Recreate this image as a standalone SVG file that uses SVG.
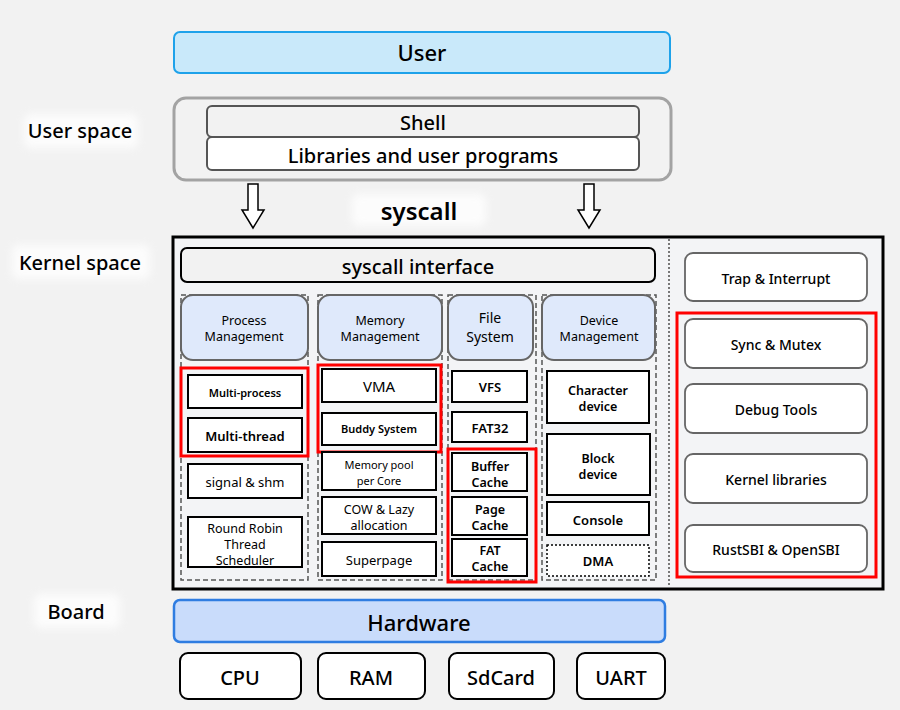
<svg xmlns="http://www.w3.org/2000/svg" width="900" height="710" viewBox="0 0 900 710">
<defs>
<filter id="soft" x="-20%" y="-40%" width="140%" height="180%"><feGaussianBlur stdDeviation="4"/></filter>
<style>
text{font-family:"Noto Sans","Noto Sans CJK SC",sans-serif;text-anchor:middle;dominant-baseline:central;fill:#000}
.big{font-size:22px;font-weight:500}
.lbl{font-size:20px;font-weight:500}
.hdr{font-size:12.5px}
.item{fill:#fff;stroke:#000;stroke-width:2}
.red{fill:none;stroke:#f00;stroke-width:3}
.col{fill:none;stroke:#555;stroke-width:1.5;stroke-dasharray:5 3}
.head{fill:#dfe9fb;stroke:#666;stroke-width:2}
.rbox{fill:#fff;stroke:#666;stroke-width:1.8}
.hw{fill:#fff;stroke:#000;stroke-width:2}
.glow{fill:#fff;opacity:0.8;filter:url(#soft)}
.t13{font-size:13px}
.m13{font-size:12.5px}
.t11{font-size:11px}
.b{font-weight:600}
.r14{font-size:14px;font-weight:500}
</style>
</defs>
<rect width="900" height="710" fill="#f2f2f2"/>

<g id="labels">
<rect class="glow" x="24" y="114" width="114" height="34" rx="6"/>
<text x="80" y="130" class="lbl">User space</text>
<rect class="glow" x="12" y="245" width="138" height="34" rx="6"/>
<text x="80" y="262" class="lbl">Kernel space</text>
<rect class="glow" x="34" y="594" width="86" height="34" rx="6"/>
<text x="76" y="611" class="lbl">Board</text>
<rect class="glow" x="352" y="194" width="134" height="32" rx="6"/>
<text x="419" y="210" style="font-size:24px;font-weight:600">syscall</text>
</g>

<g id="user">
<rect x="174" y="32" width="496" height="41" rx="6" fill="#c9e9fa" stroke="#1ea2ea" stroke-width="2"/>
<text x="422" y="52" class="big">User</text>
</g>

<g id="userspace">
<rect x="174" y="98" width="497" height="82" rx="12" fill="#f2f2f2" stroke="#a3a3a3" stroke-width="3"/>
<rect x="207" y="106" width="432" height="31" rx="5" fill="#f2f2f2" stroke="#555" stroke-width="2"/>
<text x="423" y="122" class="lbl">Shell</text>
<rect x="207" y="137" width="432" height="33" rx="5" fill="#fff" stroke="#555" stroke-width="2"/>
<text x="423" y="155" class="lbl">Libraries and user programs</text>
</g>

<g id="connectors" fill="#fff" stroke="#000" stroke-width="1.5">
<path d="M248,184 H258 V210 H264 L253,228 L242,210 H248 Z"/>
<path d="M584,184 H594 V210 H600 L589,228 L578,210 H584 Z"/>
</g>

<g id="kernel">
<rect x="173" y="237" width="710" height="352" fill="#f3f4f6" stroke="#000" stroke-width="3"/>
<line x1="669" y1="239" x2="669" y2="587" stroke="#777" stroke-width="2" stroke-dasharray="2 2"/>
</g>

<g id="syscall-interface">
<rect x="181" y="248" width="474" height="34" rx="6" fill="#f2f2f2" stroke="#000" stroke-width="2"/>
<text x="418" y="266" class="lbl">syscall interface</text>
</g>

<g id="process">
<rect class="col" x="181" y="295" width="127" height="285"/>
<rect class="head" x="181" y="295" width="127" height="65" rx="12"/>
<text x="244" y="320" class="hdr">Process</text>
<text x="244" y="336" class="hdr">Management</text>
<rect class="item" x="188" y="375" width="114" height="33"/>
<text x="245" y="392" class="t11 b">Multi-process</text>
<rect class="item" x="188" y="418" width="114" height="34"/>
<text x="245" y="436" class="t13 b">Multi-thread</text>
<rect class="red" x="181" y="368" width="127" height="88"/>
<rect class="item" x="188" y="464" width="114" height="34"/>
<text x="245" y="482" class="t13">signal &amp; shm</text>
<rect class="item" x="188" y="517" width="114" height="50"/>
<text x="245" y="528" class="m13">Round Robin</text>
<text x="245" y="544" class="m13">Thread</text>
<text x="245" y="560" class="m13">Scheduler</text>
</g>

<g id="memory">
<rect class="col" x="318" y="295" width="124" height="285"/>
<rect class="head" x="318" y="295" width="124" height="65" rx="12"/>
<text x="380" y="320" class="hdr">Memory</text>
<text x="380" y="336" class="hdr">Management</text>
<rect class="item" x="322" y="369" width="114" height="33"/>
<text x="379" y="386" style="font-size:15px">VMA</text>
<rect class="item" x="322" y="413" width="114" height="32"/>
<text x="379" y="428" class="t11 b">Buddy System</text>
<rect class="red" x="318" y="365" width="123" height="87"/>
<rect class="item" x="322" y="452" width="114" height="38"/>
<text x="379" y="464" class="t11">Memory pool</text>
<text x="379" y="480" class="t11">per Core</text>
<rect class="item" x="322" y="497" width="114" height="37"/>
<text x="379" y="509" class="m13">COW &amp; Lazy</text>
<text x="379" y="525" class="m13">allocation</text>
<rect class="item" x="322" y="542" width="114" height="34"/>
<text x="379" y="560" class="t13">Superpage</text>
</g>

<g id="filesystem">
<rect class="col" x="448" y="295" width="88" height="285"/>
<rect class="head" x="448" y="295" width="85" height="65" rx="12"/>
<text x="490" y="317" style="font-size:14px">File</text>
<text x="490" y="336.5" style="font-size:14px">System</text>
<rect class="item" x="452" y="371" width="75" height="31"/>
<text x="490" y="387" class="t13 b">VFS</text>
<rect class="item" x="452" y="412" width="75" height="30"/>
<text x="490" y="428" class="t13 b">FAT32</text>
<rect class="item" x="452" y="453" width="75" height="38"/>
<text x="490" y="466" class="m13 b">Buffer</text>
<text x="490" y="482" class="m13 b">Cache</text>
<rect class="item" x="452" y="497" width="75" height="38"/>
<text x="490" y="509" class="m13 b">Page</text>
<text x="490" y="525" class="m13 b">Cache</text>
<rect class="item" x="452" y="539" width="75" height="37"/>
<text x="490" y="550" class="m13 b">FAT</text>
<text x="490" y="566" class="m13 b">Cache</text>
<rect class="red" x="448" y="449" width="88" height="133"/>
</g>

<g id="device">
<rect class="col" x="542" y="295" width="114" height="285"/>
<rect class="head" x="542" y="295" width="113" height="65" rx="12"/>
<text x="599" y="320" class="hdr">Device</text>
<text x="599" y="336" class="hdr">Management</text>
<rect class="item" x="547" y="371" width="102" height="52"/>
<text x="598" y="390" class="m13 b">Character</text>
<text x="598" y="406" class="m13 b">device</text>
<rect class="item" x="547" y="434" width="103" height="61"/>
<text x="598" y="458" class="m13 b">Block</text>
<text x="598" y="474" class="m13 b">device</text>
<rect class="item" x="547" y="502" width="102" height="33"/>
<text x="598" y="520" class="t13 b">Console</text>
<rect x="547" y="545" width="102" height="31" fill="#fff" stroke="#000" stroke-width="1.5" stroke-dasharray="2 2"/>
<text x="598" y="561" class="t13 b">DMA</text>
</g>

<g id="right">
<rect class="rbox" x="685" y="253" width="182" height="48" rx="8"/>
<text x="776" y="278" class="r14">Trap &amp; Interrupt</text>
<rect x="677" y="313" width="199" height="264" fill="none" stroke="#f00" stroke-width="3"/>
<rect class="rbox" x="685" y="319" width="182" height="49" rx="8"/>
<text x="776" y="344" class="r14">Sync &amp; Mutex</text>
<rect class="rbox" x="685" y="384" width="182" height="49" rx="8"/>
<text x="776" y="409" class="r14">Debug Tools</text>
<rect class="rbox" x="685" y="454" width="182" height="49" rx="8"/>
<text x="776" y="479" class="r14">Kernel libraries</text>
<rect class="rbox" x="685" y="525" width="182" height="47" rx="8"/>
<text x="776" y="549" class="r14">RustSBI &amp; OpenSBI</text>
</g>

<g id="hardware">
<rect x="174" y="600" width="491" height="42" rx="6" fill="#c9dcfb" stroke="#2f7de1" stroke-width="2.5"/>
<text x="419" y="622" class="big">Hardware</text>
</g>
<g id="cpu"><rect class="hw" x="180" y="653" width="121" height="46" rx="8"/><text x="240" y="677" class="lbl">CPU</text></g>
<g id="ram"><rect class="hw" x="318" y="653" width="107" height="46" rx="8"/><text x="371" y="677" class="lbl">RAM</text></g>
<g id="sdcard"><rect class="hw" x="449" y="653" width="105" height="46" rx="8"/><text x="501" y="677" class="lbl">SdCard</text></g>
<g id="uart"><rect class="hw" x="577" y="653" width="88" height="46" rx="8"/><text x="621" y="677" class="lbl">UART</text></g>
</svg>
